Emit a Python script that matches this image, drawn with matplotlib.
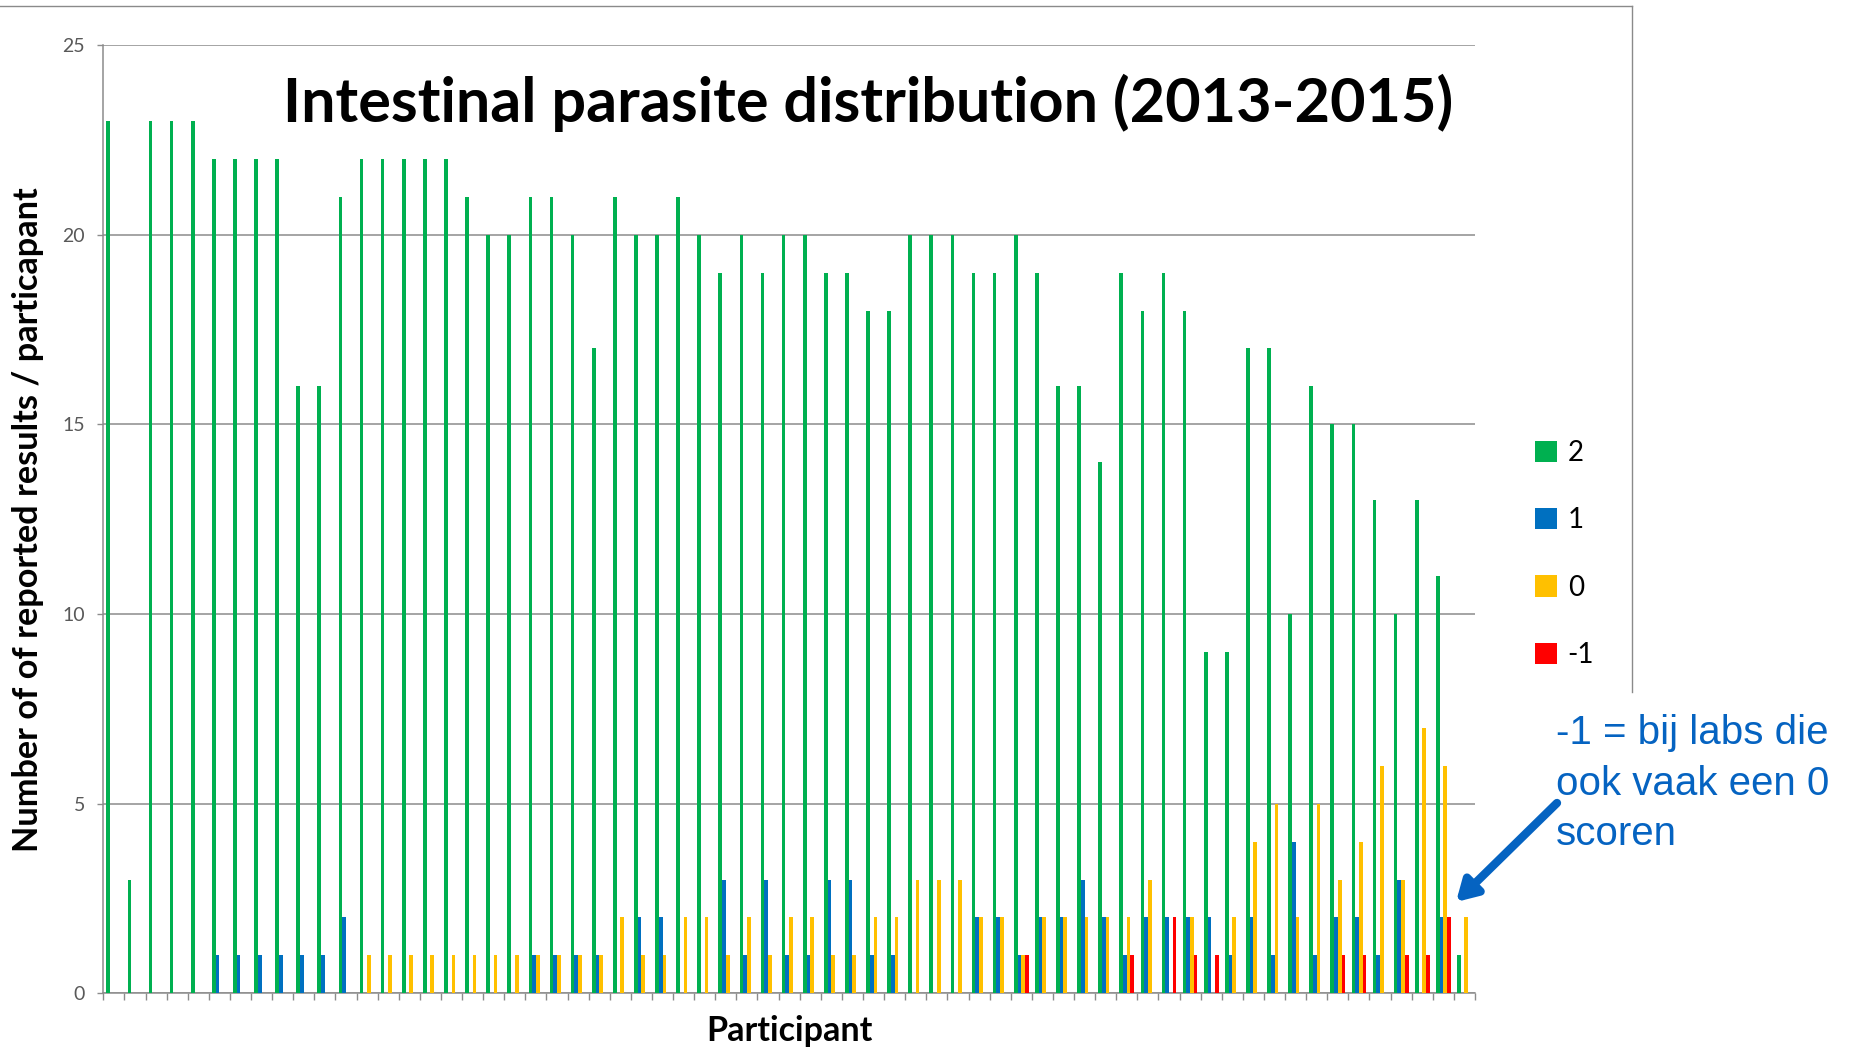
import matplotlib.pyplot as plt
import numpy as np
from matplotlib.lines import Line2D
from matplotlib.patches import Patch

# counts per participant for each score
score_labels = ['2', '1', '0', '-1']
score_colors = ['#00B050', '#0070C0', '#FFC000', '#FF0000']

score_2 = [23, 3, 23, 23, 23, 22, 22, 22, 22, 16, 16, 21, 22, 22, 22, 22, 22,
           21, 20, 20, 21, 21, 20, 17, 21, 20, 20, 21, 20, 19, 20, 19, 20, 20,
           19, 19, 18, 18, 20, 20, 20, 19, 19, 20, 19, 16, 16, 14, 19, 18, 19,
           18, 9, 9, 17, 17, 10, 16, 15, 15, 13, 10, 13, 11, 1]
score_1 = [0, 0, 0, 0, 0, 1, 1, 1, 1, 1, 1, 2, 0, 0, 0, 0, 0, 0, 0, 0, 1, 1,
           1, 1, 0, 2, 2, 0, 0, 3, 1, 3, 1, 1, 3, 3, 1, 1, 0, 0, 0, 2, 2, 1,
           2, 2, 3, 2, 1, 2, 2, 2, 2, 1, 2, 1, 4, 1, 2, 2, 1, 3, 0, 2, 0]
score_0 = [0, 0, 0, 0, 0, 0, 0, 0, 0, 0, 0, 0, 1, 1, 1, 1, 1, 1, 1, 1, 1, 1,
           1, 1, 2, 1, 1, 2, 2, 1, 2, 1, 2, 2, 1, 1, 2, 2, 3, 3, 3, 2, 2, 1,
           2, 2, 2, 2, 2, 3, 0, 2, 0, 2, 4, 5, 2, 5, 3, 4, 6, 3, 7, 6, 2]
score_m1 = [0, 0, 0, 0, 0, 0, 0, 0, 0, 0, 0, 0, 0, 0, 0, 0, 0, 0, 0, 0, 0, 0,
            0, 0, 0, 0, 0, 0, 0, 0, 0, 0, 0, 0, 0, 0, 0, 0, 0, 0, 0, 0, 0, 1,
            0, 0, 0, 0, 1, 0, 2, 1, 1, 0, 0, 0, 0, 0, 1, 1, 0, 1, 1, 2, 0]

series = [score_2, score_1, score_0, score_m1]
n = len(score_2)
x = np.arange(n)
width = 0.175

fig = plt.figure(figsize=(18.54, 10.49), dpi=100)
ax = fig.add_axes([103.3 / 1854, 1 - 993.3 / 1049, (1475 - 103.3) / 1854, (993.3 - 45) / 1049])

for k, (vals, col, lab) in enumerate(zip(series, score_colors, score_labels)):
    ax.bar(x + (k - 1.5) * width, vals, width=width, color=col, linewidth=0,
           label=lab, zorder=3)

grid_col = '#8C8C8C'
ax.set_xlim(-0.5, n - 0.5)
ax.set_ylim(0, 25)
ax.set_yticks(range(0, 26, 5))
ax.yaxis.grid(True, color=grid_col, linewidth=1.1, zorder=0)
ax.set_xticks(np.arange(n + 1) - 0.5)
ax.set_xticklabels([])
ax.tick_params(axis='x', direction='out', length=5, width=1, color=grid_col)
ax.tick_params(axis='y', direction='out', length=4, width=1, color=grid_col,
               labelsize=14, labelcolor='#595959', pad=9)
for t in ax.get_yticklabels():
    t.set_fontfamily('Lato')
for side in ['top', 'right']:
    ax.spines[side].set_visible(False)
for side in ['left', 'bottom']:
    ax.spines[side].set_color(grid_col)
    ax.spines[side].set_linewidth(1.1)

ax.set_ylabel('Number of of reported results / particapant', fontsize=24.7,
              fontweight='bold', family='Lato')
ax.yaxis.set_label_coords(-0.055, 0.5)
ax.yaxis.label.set_va('center')
ax.set_xlabel('Participant', fontsize=24.5, fontweight='bold', family='Lato')
ax.xaxis.set_label_coords(0.5, -0.04)
ax.xaxis.label.set_va('center')

fig.text(868 / 1854, 1 - 122 / 1049, 'Intestinal parasite distribution (2013-2015)',
         ha='center', va='baseline', fontsize=44, fontweight='bold', family='Lato')

# legend to the right of the plot
handles = [Patch(facecolor=c, edgecolor='none') for c in score_colors]
ax.legend(handles, score_labels, loc='upper left', bbox_to_anchor=(1521 / 1854, 1 - 426 / 1049),
          bbox_transform=fig.transFigure, frameon=False, borderpad=0,
          prop={'family': 'Lato', 'size': 20}, handlelength=0.8, handleheight=0.8,
          handletextpad=0.38, labelspacing=1.49)

# chart border
fig.add_artist(Line2D([0, 1632 / 1854], [1 - 6 / 1049] * 2, color='#8A8A8A', lw=1))
fig.add_artist(Line2D([1632 / 1854] * 2, [1 - 6 / 1049, 1 - 692 / 1049], color='#8A8A8A', lw=1))

# note about -1
note_col = '#0563C1'
fig.text(1556 / 1854, 1 - 845 / 1049, '-1 = bij labs die\nook vaak een 0\nscoren',
         ha='left', va='baseline', fontsize=29, family='Liberation Sans',
         color=note_col, linespacing=1.41)
ax.annotate('', xy=(1456 / 1854, 1 - 902 / 1049), xycoords='figure fraction',
            xytext=(1557 / 1854, 1 - 803 / 1049), textcoords='figure fraction',
            arrowprops=dict(arrowstyle='-|>,head_length=1.2,head_width=0.7',
                            color=note_col, lw=6, shrinkA=0, shrinkB=0))

plt.savefig('out.png', dpi=100)
